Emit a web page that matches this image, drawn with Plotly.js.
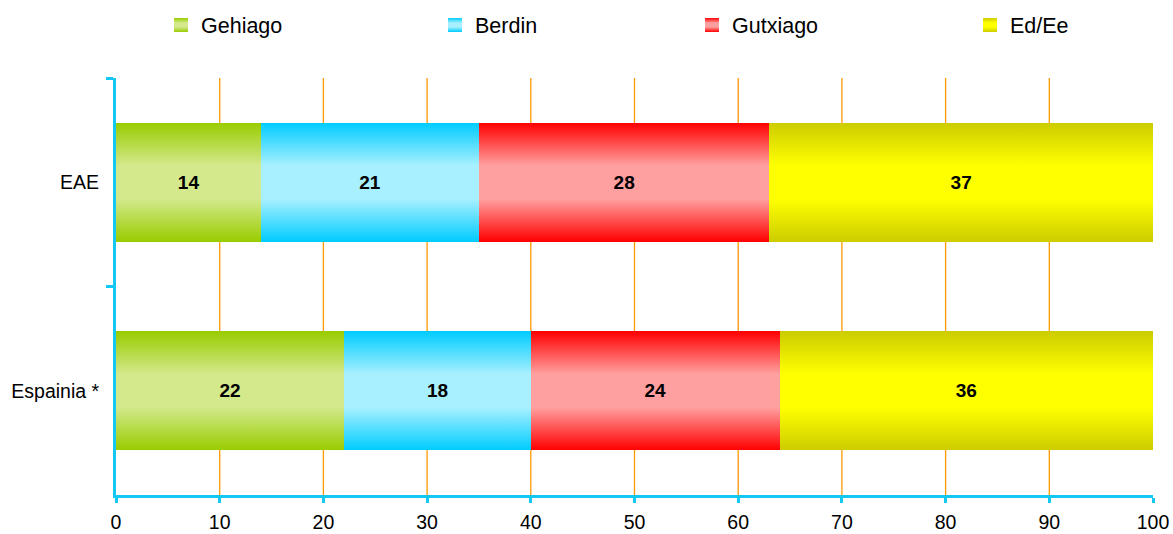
<!DOCTYPE html>
<html>
<head>
<meta charset="utf-8">
<script src="https://cdn.plot.ly/plotly-3.0.1.min.js"></script>
<style>html,body{margin:0;padding:0;background:#fff;}#chart{width:1173px;height:534px;}
#chart .gridlayer path{shape-rendering:geometricPrecision !important;}</style>
</head>
<body>
<div id="chart"></div>
<script>
const categories = ['EAE', 'Espainia *'];
const seriesNames = ['Gehiago', 'Berdin', 'Gutxiago', 'Ed/Ee'];
const gehiago = [14, 22];
const berdin = [21, 18];
const gutxiago = [28, 24];
const edEe = [37, 36];
const xTicks = [0, 10, 20, 30, 40, 50, 60, 70, 80, 90, 100];

const edgeColors = ['#99cc00', '#00ccff', '#ff0000', '#cccc00'];
const midColors = ['#d3e98c', '#a8f0ff', '#ffa0a0', '#ffff00'];
const seriesValues = [gehiago, berdin, gutxiago, edEe];
const legendIds = ['legend', 'legend2', 'legend3', 'legend4'];
const legendX = [161, 435, 692, 970];

const font = 'Liberation Sans, Arial, sans-serif';
const traces = seriesValues.map((vals, i) => ({
  type: 'bar',
  orientation: 'h',
  name: seriesNames[i],
  legend: legendIds[i],
  y: categories,
  x: vals,
  width: 0.57,
  marker: {color: edgeColors[i], line: {width: 0}},
  text: vals.map(String),
  textposition: 'inside',
  insidetextanchor: 'middle',
  textangle: 0,
  constraintext: 'none',
  textfont: {family: font, size: 19, color: '#000', weight: 'bold'},
  hoverinfo: 'x+name'
}));

const axisColor = '#14c8f4';
const layout = {
  barmode: 'stack',
  width: 1173, height: 534,
  margin: {l: 116, r: 20, t: 78, b: 39, autoexpand: false},
  paper_bgcolor: '#fff', plot_bgcolor: '#fff',
  font: {family: font, size: 19, color: '#000'},
  showlegend: true,
  xaxis: {
    range: [0, 100], tickvals: xTicks, ticktext: xTicks.map(String),
    showgrid: true, gridcolor: '#ff9900', gridwidth: 1.3,
    showline: true, linecolor: axisColor, linewidth: 3,
    ticks: 'outside', ticklen: 5, tickwidth: 3, tickcolor: axisColor,
    ticklabelstandoff: 3,
    tickfont: {family: font, size: 19.5, color: '#000'},
    zeroline: false, fixedrange: true
  },
  yaxis: {
    type: 'category', autorange: 'reversed',
    showline: true, linecolor: axisColor, linewidth: 3,
    ticks: 'outside', tickson: 'boundaries', ticklen: 7, tickwidth: 3, tickcolor: axisColor,
    ticklabelstandoff: 10,
    tickfont: {family: font, size: 19.5, color: '#000'},
    showgrid: false, zeroline: false, fixedrange: true
  },
  bargap: 0.43
};
legendIds.forEach((id, i) => {
  layout[id] = {
    orientation: 'h', xref: 'container', x: legendX[i] / 1173,
    yref: 'container', y: 1 - 25 / 534, yanchor: 'middle', xanchor: 'left',
    font: {family: font, size: 21.5, color: '#000'},
    bgcolor: 'rgba(0,0,0,0)'
  };
});

function applyGradients() {
  const gd = document.getElementById('chart');
  const svg = gd.querySelector('svg.main-svg');
  if (!svg) return;
  const ns = 'http://www.w3.org/2000/svg';
  if (!document.getElementById('bargrad0')) {
    let defs = svg.querySelector('defs');
    if (!defs) { defs = document.createElementNS(ns, 'defs'); svg.insertBefore(defs, svg.firstChild); }
    edgeColors.forEach((edge, i) => {
      const g = document.createElementNS(ns, 'linearGradient');
      g.setAttribute('id', 'bargrad' + i);
      g.setAttribute('x1', '0'); g.setAttribute('y1', '0');
      g.setAttribute('x2', '0'); g.setAttribute('y2', '1');
      [[0, edge], [0.36, midColors[i]], [0.64, midColors[i]], [1, edge]].forEach(([o, c]) => {
        const s = document.createElementNS(ns, 'stop');
        s.setAttribute('offset', o); s.setAttribute('stop-color', c);
        g.appendChild(s);
      });
      defs.appendChild(g);
    });
  }
  gd.querySelectorAll('.barlayer .trace').forEach((t, i) => {
    t.querySelectorAll('path').forEach(p => { p.style.fill = 'url(#bargrad' + i + ')'; });
  });
  // legend entries are laid out left to right in series order
  const pts = Array.from(gd.querySelectorAll('.legendpoints'))
    .map(lp => ({lp, left: lp.getBoundingClientRect().left}))
    .sort((a, b) => a.left - b.left);
  pts.forEach(({lp}, i) => {
    if (i >= edgeColors.length) return;
    lp.querySelectorAll('path').forEach(p => {
      p.setAttribute('d', 'M7,7H-7V-7H7Z');
      p.style.fill = 'url(#bargrad' + i + ')';
    });
  });
}

Plotly.newPlot('chart', traces, layout, {displayModeBar: false, staticPlot: true}).then(() => {
  applyGradients();
  setTimeout(applyGradients, 50);
  setTimeout(applyGradients, 300);
});
</script>
</body>
</html>
